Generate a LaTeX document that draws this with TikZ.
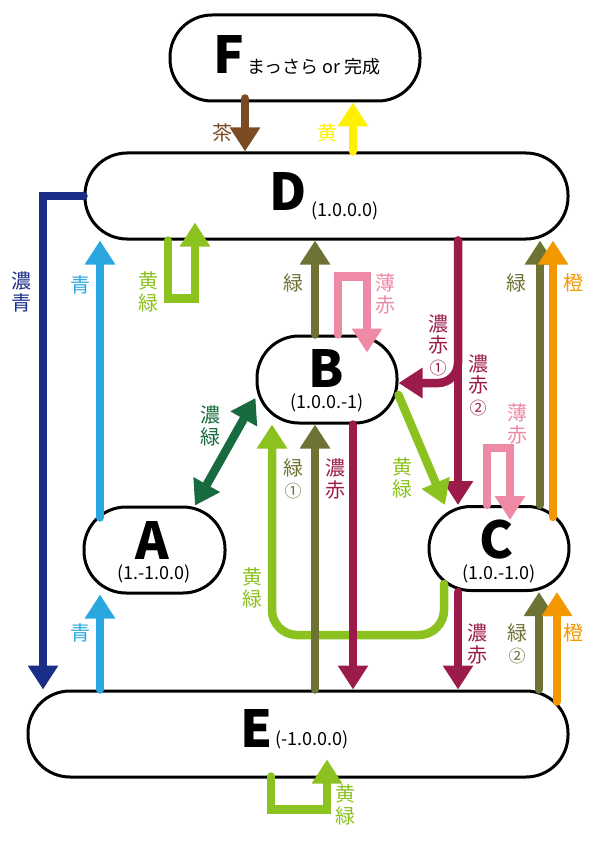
\documentclass[tikz,border=0pt]{standalone}
\usepackage{fontspec}
\setmainfont{Noto Sans CJK JP}
\usetikzlibrary{arrows.meta}
\definecolor{cha}{HTML}{7B4B24}
\definecolor{ki}{HTML}{FFF000}
\definecolor{koao}{HTML}{1B2E87}
\definecolor{ao}{HTML}{2AA7E0}
\definecolor{kimido}{HTML}{8CC21F}
\definecolor{midori}{HTML}{6F7235}
\definecolor{usuaka}{HTML}{EE8AA5}
\definecolor{koaka}{HTML}{9B1C4B}
\definecolor{dai}{HTML}{F39800}
\definecolor{komidori}{HTML}{176B3E}
\newcommand{\maru}[1]{{\fontsize{17}{17}\selectfont #1}}
\begin{document}
\begin{tikzpicture}[x=1pt,y=-1pt,
  box/.style={draw,line width=3pt,rounded corners=42pt,fill=white,inner sep=0pt},
  big/.style={font=\fontsize{51}{51}\selectfont\bfseries,inner sep=0pt},
  crd/.style={font=\fontsize{18}{18}\selectfont,inner sep=0pt},
  lbl/.style={font=\fontsize{20}{21.5}\selectfont,align=center,inner sep=0pt},
  arw/.style={line width=8.5pt,line cap=round,-{Triangle[width=29pt,length=24pt]}},
  arwb/.style={line width=8.5pt,{Triangle[width=29pt,length=24pt]}-{Triangle[width=29pt,length=24pt]}}]
  \useasboundingbox (0,0) rectangle (595,842);
  % states
  \node[box,minimum width=250pt,minimum height=86pt] (F) at (295,58) {};
  \node[box,minimum width=483pt,minimum height=86pt] (D) at (326.5,196) {};
  \node[box,minimum width=140pt,minimum height=87pt] (B) at (327,379.5) {};
  \node[box,minimum width=141pt,minimum height=86pt] (A) at (154.5,550) {};
  \node[box,minimum width=140pt,minimum height=84pt] (C) at (499,548.5) {};
  \node[box,minimum width=540pt,minimum height=86pt] (E) at (298,734) {};
  \node[big] (Fl) at (229,55) {F};
  \node[crd] (Ft) at (314,67) {まっさら or 完成};
  \node[big] (Dl) at (288,192) {D};
  \node[crd] (Dt) at (345,211) {(1.0.0.0)};
  \node[big] (Bl) at (326,368) {B};
  \node[crd] (Bt) at (327,403) {(1.0.0.-1)};
  \node[big] (Al) at (152,540) {A};
  \node[crd] (At) at (154,574) {(1.-1.0.0)};
  \node[big] (Cl) at (497,540) {C};
  \node[crd] (Ct) at (499,574) {(1.0.-1.0)};
  \node[big] (El) at (257,728) {E};
  \node[crd] (Et) at (312,740) {(-1.0.0.0)};
  % transitions
  \draw[arw,cha] ([yshift=4pt]F.south -| 245,0) -- (D.north -| 245,0);
  \draw[arw,ki] (D.north -| 353,0) -- (F.south -| 353,0);
  \draw[arw,koao] (D.west) -| (E.north -| 43,0);
  \draw[arw,ao] ([yshift=-12pt]A.north -| 100,0) -- (D.south -| 100,0);
  \draw[arw,ao] (E.north -| 100,0) -- (A.south -| 100,0);
  \draw[arw,kimido] (D.south -| 168,0) -- ++(0,58) -| ([yshift=18pt]D.south -| 195,0);
  \draw[arw,midori] (B.north -| 315,0) -- (D.south -| 315,0);
  \draw[arw,usuaka] (B.north -| 338,0) -- ++(0,-58) -| ([yshift=-18pt]B.north -| 367,0);
  \draw[arw,koaka,rounded corners=20pt] (D.south -| 458,0) |- (B.east |- 0,383);
  \draw[arw,koaka] (D.south -| 458,0) -- (C.north -| 458,0);
  \draw[arw,midori] (C.north -| 540,0) -- (D.south -| 540,0);
  \draw[arw,dai] ([yshift=-12pt]C.north -| 553,0) -- (D.south -| 553,0);
  \draw[arwb,komidori] (A.north -| 195,0) -- (B.west |- 0,398);
  \draw[arw,kimido] (B.east |- 0,395) -- (C.north -| 445,0);
  \draw[arw,usuaka] (C.north -| 487,0) -- ++(0,-57) -| ([yshift=-15pt]C.north -| 510,0);
  \draw[arw,kimido,rounded corners=25pt] ([yshift=8pt]C.south -| 444,0) -- ++(0,51) -| (B.south -| 272,0);
  \draw[arw,midori] (E.north -| 315,0) -- (B.south -| 315,0);
  \draw[arw,koaka] (B.south -| 353,0) -- (E.north -| 353,0);
  \draw[arw,koaka] (C.south -| 458,0) -- (E.north -| 458,0);
  \draw[arw,midori] (E.north -| 539,0) -- (C.south -| 539,0);
  \draw[arw,dai] ([yshift=-12pt]E.north -| 557,0) -- (C.south -| 557,0);
  \draw[arw,kimido] ([yshift=2pt]E.south -| 271,0) -- ++(0,33) -| ([yshift=19pt]E.south -| 327,0);
  % colour labels
  \foreach \n/\p/\c/\t in {Cha/{222,133}/cha/{茶}, Ki/{327,133}/ki/{黄},
      Koao/{22,292}/koao/{濃\\青}, Ao1/{80,285}/ao/{青}, Km1/{148,292}/kimido/{黄\\緑},
      Md1/{293,283}/midori/{緑}, Ua1/{385,294}/usuaka/{薄\\赤},
      Ka1/{438,345}/koaka/{濃\\赤\\\maru{①}}, Ka2/{478,385}/koaka/{濃\\赤\\\maru{②}},
      Md2/{516,283}/midori/{緑}, Dai1/{573,283}/dai/{橙}, Kmd/{210,426}/komidori/{濃\\緑},
      Km2/{402,478}/kimido/{黄\\緑}, Ua2/{517,424}/usuaka/{薄\\赤},
      Km3/{252,588}/kimido/{黄\\緑}, Md3/{293,479}/midori/{緑\\\maru{①}},
      Ka3/{335,479}/koaka/{濃\\赤}, Ka4/{477,644}/koaka/{濃\\赤},
      Md4/{517,644}/midori/{緑\\\maru{②}}, Dai2/{573,633}/dai/{橙},
      Ao2/{80,633}/ao/{青}, Km4/{345,805}/kimido/{黄\\緑}}
    {\node[lbl,text=\c] (l\n) at (\p) {\t};}
\end{tikzpicture}
\end{document}
